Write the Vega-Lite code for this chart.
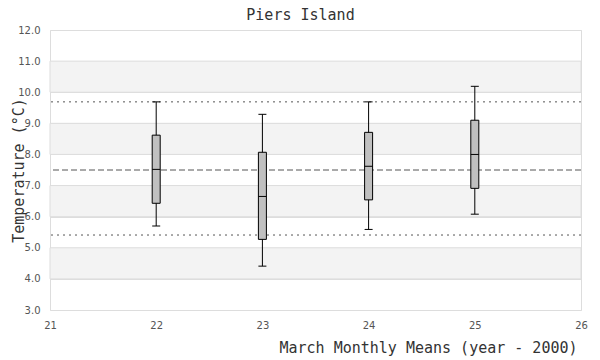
{
  "$schema": "https://vega.github.io/schema/vega-lite/v6.json",
  "width": 531,
  "height": 280,
  "autosize": "none",
  "padding": {"left": 50, "top": 30, "right": 19, "bottom": 50},
  "background": "white",
  "config": {
    "view": {"stroke": "#dddddd"},
    "axis": {"labelFont": "DejaVu Sans", "labelFontSize": 10, "labelColor": "#555555", "ticks": false, "domain": false, "gridColor": "#dddddd", "labelOverlap": false, "labelFlush": false, "labelBound": false, "labelPadding": 10},
    "axisY": {"format": ".1f", "values": [3, 4, 5, 6, 7, 8, 9, 10, 11, 12], "grid": true,
      "title": "Temperature (°C)", "titleFont": "DejaVu Sans Mono", "titleFontSize": 15, "titleFontWeight": "normal", "titleColor": "#333333",
      "titleX": -32, "titleY": 140, "titleAlign": "center", "titleBaseline": "middle", "titleAngle": -90}
  },
  "title": {"text": "Piers Island", "font": "DejaVu Sans Mono", "fontSize": 15, "fontWeight": "normal", "color": "#333333", "anchor": "middle", "dx": -15, "offset": 2},
  "datasets": {
    "boxes": [
      {"year": 22, "lower": 5.70, "q1": 6.43, "median": 7.52, "q3": 8.62, "upper": 9.69},
      {"year": 23, "lower": 4.41, "q1": 5.27, "median": 6.65, "q3": 8.07, "upper": 9.29},
      {"year": 24, "lower": 5.59, "q1": 6.54, "median": 7.62, "q3": 8.71, "upper": 9.69},
      {"year": 25, "lower": 6.08, "q1": 6.91, "median": 8.00, "q3": 9.10, "upper": 10.19}
    ],
    "bands": [
      {"from": 10, "to": 11},
      {"from": 8, "to": 9},
      {"from": 6, "to": 7},
      {"from": 4, "to": 5}
    ],
    "refs": [
      {"value": 9.69, "kind": "max"},
      {"value": 7.5, "kind": "mean"},
      {"value": 5.41, "kind": "min"}
    ]
  },
  "encoding": {
    "x": {"field": "year", "type": "quantitative", "scale": {"domain": [21, 26], "nice": false, "zero": false, "padding": 0},
      "axis": {"values": [21, 22, 23, 24, 25, 26], "format": "d", "grid": false,
        "title": "March Monthly Means (year - 2000)", "titleFont": "DejaVu Sans Mono", "titleFontSize": 15, "titleFontWeight": "normal", "titleColor": "#333333",
        "titleAnchor": "end", "titleAlign": "right", "titleX": 527, "titleY": 42, "titleBaseline": "alphabetic"}}
  },
  "layer": [
    {
      "data": {"name": "bands"},
      "mark": {"type": "rect", "fill": "#f3f3f3", "stroke": "#dddddd", "strokeWidth": 1},
      "encoding": {
        "x": null,
        "y": {"field": "from", "type": "quantitative", "scale": {"domain": [3, 12], "nice": false, "zero": false}, "title": "Temperature (°C)"},
        "y2": {"field": "to"}
      }
    },
    {
      "data": {"name": "refs"},
      "mark": {"type": "rule", "color": "#555555", "strokeWidth": 1},
      "encoding": {
        "x": null,
        "y": {"field": "value", "type": "quantitative", "title": "Temperature (°C)"},
        "strokeDash": {"field": "kind", "type": "nominal", "scale": {"domain": ["max", "mean", "min"], "range": [[2, 4], [6, 3], [2, 4]]}, "legend": null}
      }
    },
    {
      "data": {"name": "boxes"},
      "mark": {"type": "rule", "color": "black", "strokeWidth": 1},
      "encoding": {"y": {"field": "lower", "type": "quantitative", "title": "Temperature (°C)"}, "y2": {"field": "upper"}}
    },
    {
      "data": {"name": "boxes"},
      "mark": {"type": "tick", "orient": "horizontal", "color": "black", "size": 8, "thickness": 1, "opacity": 1},
      "encoding": {"y": {"field": "lower", "type": "quantitative", "title": "Temperature (°C)"}}
    },
    {
      "data": {"name": "boxes"},
      "mark": {"type": "tick", "orient": "horizontal", "color": "black", "size": 8, "thickness": 1, "opacity": 1},
      "encoding": {"y": {"field": "upper", "type": "quantitative", "title": "Temperature (°C)"}}
    },
    {
      "data": {"name": "boxes"},
      "mark": {"type": "bar", "fill": "#c0c0c0", "stroke": "black", "strokeWidth": 1, "size": 8, "orient": "vertical"},
      "encoding": {"y": {"field": "q1", "type": "quantitative", "title": "Temperature (°C)"}, "y2": {"field": "q3"}}
    },
    {
      "data": {"name": "boxes"},
      "mark": {"type": "tick", "orient": "horizontal", "color": "black", "size": 8, "thickness": 1, "opacity": 1},
      "encoding": {"y": {"field": "median", "type": "quantitative", "title": "Temperature (°C)"}}
    }
  ]
}
